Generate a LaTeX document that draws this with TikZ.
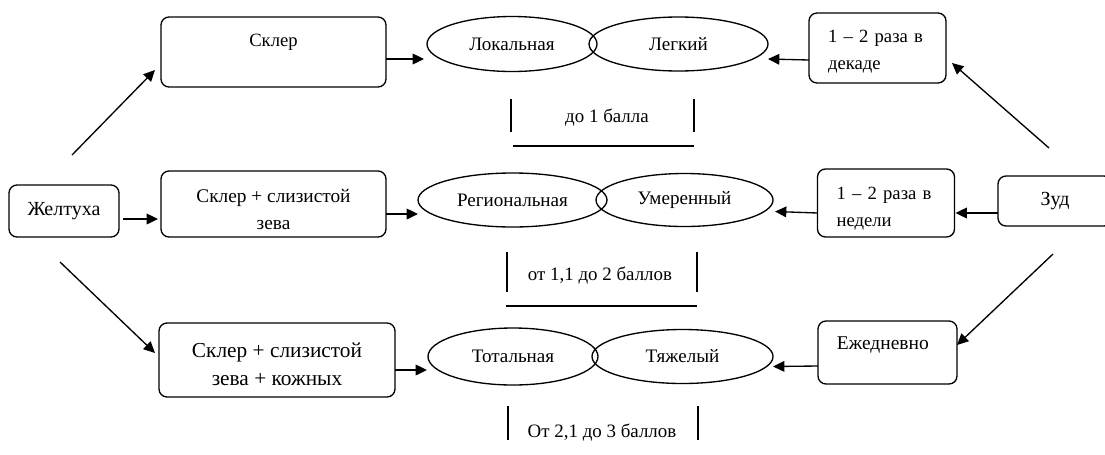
\documentclass[tikz,border=0pt]{standalone}
\usepackage{fontspec}
\setmainfont{Liberation Serif}
\usepackage{tikz}
\usetikzlibrary{arrows.meta, shapes.geometric, positioning}
\tikzset{
  box/.style={draw, rounded corners=6pt, inner sep=0pt, outer sep=0pt, align=center, font=\fontsize{14}{20}\selectfont},
  freq/.style={box, align=left, inner xsep=14.25pt, text width=74.25pt},
  oval/.style={draw, ellipse, inner sep=0pt, outer sep=0pt, font=\fontsize{14.3}{20}\selectfont},
  score/.style={font=\fontsize{14.2}{20}\selectfont}
}

\begin{document}
\begin{tikzpicture}[>={Triangle[length=8.5pt,width=8pt]}, line width=1pt, x=0.75pt, y=-0.75pt]
\clip (0,0) rectangle (1105,454);
% left column
\node[box, minimum width=82.5pt, minimum height=39pt, font=\fontsize{15}{20}\selectfont] (jel) at (64,211) {Желтуха};
\node[box, minimum width=168.75pt, minimum height=52.5pt, text height=10pt, text depth=18pt] (sk1) at (273.5,52) {Склер};
\node[box, minimum width=168.75pt, minimum height=49.5pt, font=\fontsize{14.5}{20}\selectfont] (sk2) at (273.5,204) {\rule{0pt}{18pt}Склер + слизистой\\зева};
\node[box, minimum width=177pt, minimum height=55.5pt, font=\fontsize{16}{21}\selectfont] (sk3) at (277,360) {\rule{0pt}{17.5pt}Склер + слизистой\\зева + кожных};
% ellipses
\node[oval, minimum width=127.5pt, minimum height=41.25pt] (loc) at (512,44) {Локальная};
\node[oval, minimum width=134.25pt, minimum height=40.5pt, right=-6pt of loc] (leg) {Легкий};
\node[oval, minimum width=141.75pt, minimum height=40.5pt] (reg) at (512.5,200) {Региональная};
\node[oval, minimum width=132.75pt, minimum height=39.75pt, right=-8.25pt of reg] (umer) {Умеренный};
\node[oval, minimum width=127.5pt, minimum height=42.75pt] (tot) at (513,356.5) {Тотальная};
\node[oval, minimum width=135.75pt, minimum height=40.5pt, right=-4.5pt of tot] (tyazh) {Тяжелый};
% right column
\node[freq, minimum height=52.5pt] (fr1) at (877.5,48) {\rule{0pt}{14.5pt}\mbox{1 – 2 раза в}\\декаде};
\node[freq, minimum height=51pt] (fr2) at (886,203) {\rule{0pt}{17.5pt}\mbox{1 – 2 раза в}\\недели};
\node[box, minimum width=104.25pt, minimum height=47.25pt, text height=10pt, text depth=15pt, font=\fontsize{14.6}{20}\selectfont] (fr3) at (887.5,352.5) {\hspace*{-7pt}Ежедневно};
\node[box, minimum width=85.5pt, minimum height=37.5pt, font=\fontsize{15}{20}\selectfont] (zud) at (1055,201) {Зуд};
% scores
\node[score] (b1) at (607,118) {до 1 балла};
\node[score] (b2) at (600,276) {от 1,1 до 2 баллов};
\node[score] (b3) at (602,433) {От 2,1 до 3 баллов};
\draw (511,99) -- (511,132) (694,99) -- (694,132) (513,146) -- (694,146);
\draw (507,252) -- (507,292) (697,252) -- (697,292) (506,306) -- (697,306);
\draw (508,406) -- (508,440) (698,406) -- (698,440);
% arrows
\coordinate (jelA) at (72,155);
\coordinate (jelB) at (60,262);
\coordinate (zudA) at (1049,148);
\coordinate (zudB) at (1053,254);
\draw[->] (jelA) -- ([shift={(-6,18)}]sk1.west);
\draw[->] ([shift={(4,8)}]jel.east) -- ([shift={(-3,15)}]sk2.west);
\draw[->] (jelB) -- ([shift={(-4,-7)}]sk3.west);
\draw[->] ([shift={(0,7)}]sk1.east) -- ([shift={(-3,15)}]loc.west);
\draw[->] ([shift={(0,10)}]sk2.east) -- ([shift={(0,14)}]reg.west);
\draw[->] ([shift={(0,10)}]sk3.east) -- ([shift={(-1,13.5)}]tot.west);
\draw[->] ([shift={(0,12)}]fr1.west) -- ([shift={(0,15)}]leg.east);
\draw[->] ([shift={(0,10)}]fr2.west) -- ([shift={(2,11.5)}]umer.east);
\draw[->] ([shift={(0,13.5)}]fr3.west) -- ([shift={(0,10)}]tyazh.east);
\draw[->] ([shift={(0,12)}]zud.west) -- ([shift={(1,10)}]fr2.east);
\draw[->] (zudA) -- ([shift={(6,15)}]fr1.east);
\draw[->] (zudB) -- ([shift={(0,-7.5)}]fr3.east);
\end{tikzpicture}
\end{document}
